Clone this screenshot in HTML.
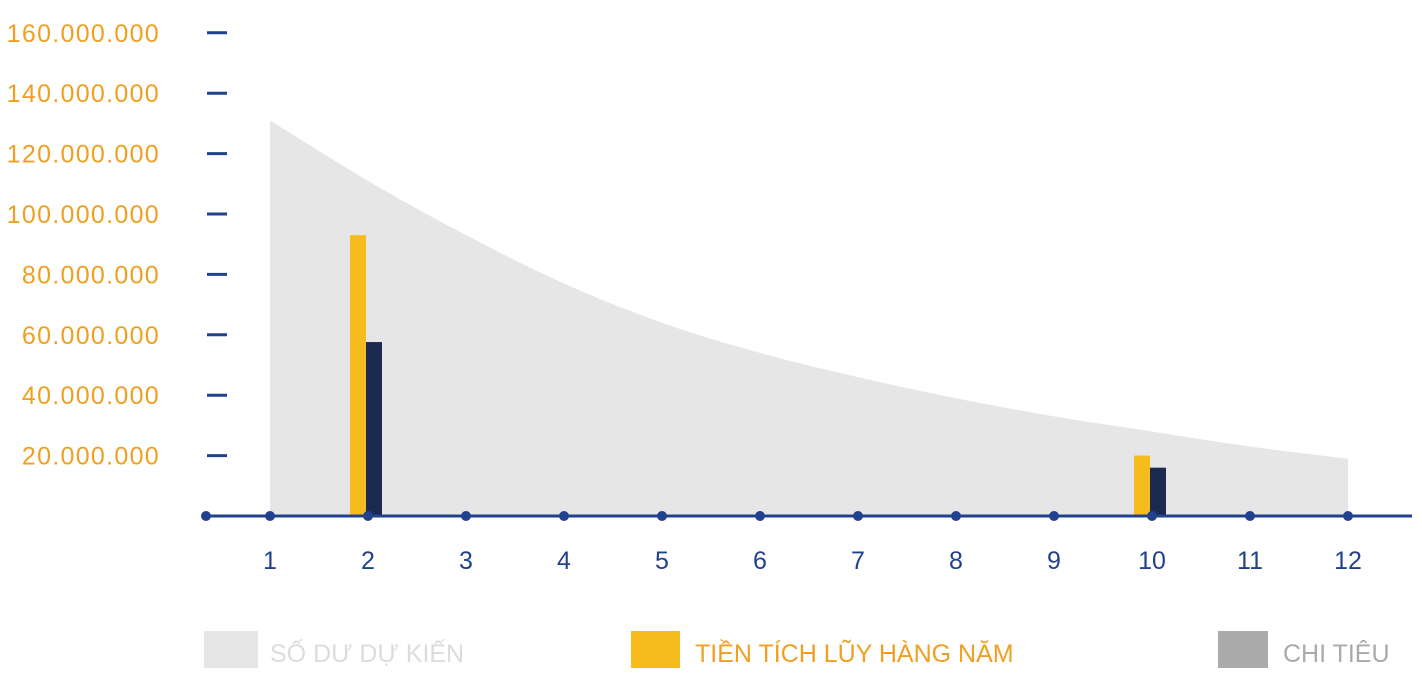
<!DOCTYPE html>
<html><head><meta charset="utf-8"><style>
body{margin:0;background:#fff;width:1422px;height:689px;overflow:hidden;font-family:"Liberation Sans","Noto Sans CJK SC",sans-serif}
</style></head><body>
<svg id="chart" width="1422" height="689" xmlns="http://www.w3.org/2000/svg"></svg>
<script>
const categories=[1,2,3,4,5,6,7,8,9,10,11,12];
const balance=[131,111,93,77,64,54,46,39,33,28,23,19];
const savings=[0,93,0,0,0,0,0,0,0,20,0,0];
const spending=[0,57.6,0,0,0,0,0,0,0,16,0,0];
const yTicks=[20,40,60,80,100,120,140,160];
const yTickLabels=["20.000.000","40.000.000","60.000.000","80.000.000","100.000.000","120.000.000","140.000.000","160.000.000"];
const svg=document.getElementById('chart');
const NS='http://www.w3.org/2000/svg';
const y0=516, pxPerM=60.4/20;
function y(v){return y0-v*pxPerM;}
function x(i){return 270+i*98;}
function mk(t,a,txt){const e=document.createElementNS(NS,t);for(const k in a)e.setAttribute(k,a[k]);if(txt!=null)e.textContent=txt;svg.appendChild(e);return e;}
// smooth area
const pts=balance.map((v,i)=>[x(i),y(v)]);
let d='M'+x(0)+','+y0+' L'+pts[0][0]+','+pts[0][1];
for(let i=0;i<pts.length-1;i++){
 const p0=pts[Math.max(0,i-1)],p1=pts[i],p2=pts[i+1],p3=pts[Math.min(pts.length-1,i+2)];
 const c1=[p1[0]+(p2[0]-p0[0])/6,p1[1]+(p2[1]-p0[1])/6];
 const c2=[p2[0]-(p3[0]-p1[0])/6,p2[1]-(p3[1]-p1[1])/6];
 d+=' C'+c1[0]+','+c1[1]+' '+c2[0]+','+c2[1]+' '+p2[0]+','+p2[1];
}
d+=' L'+x(balance.length-1)+','+y0+' Z';
let e=mk('path',{d:d,fill:'#e6e6e6'});


// y ticks
yTicks.forEach((v,i)=>{
 let t=mk('line',{x1:207,x2:227,y1:y(v),y2:y(v),stroke:'#21418f','stroke-width':3});
 
 
 let l=mk('text',{x:160,y:y(v)+9,'text-anchor':'end','font-size':25,'letter-spacing':1.3,fill:'#f0a020'},yTickLabels[i]);
 
 
});
// bars
categories.forEach((c,i)=>{
 if(savings[i]>0){let b=mk('rect',{x:x(i)-18,y:y(savings[i]),width:16,height:y0-y(savings[i]),fill:'#f6bb1c'});
 
 }
 if(spending[i]>0){let b=mk('rect',{x:x(i)-2,y:y(spending[i]),width:16,height:y0-y(spending[i]),fill:'#1b2a4e'});
 
 }
});
// axis
e=mk('line',{x1:204,x2:1412,y1:y0,y2:y0,stroke:'#21418f','stroke-width':3});


e=mk('circle',{cx:206,cy:y0,r:5,fill:'#21418f'});


categories.forEach((c,i)=>{
 let dt=mk('circle',{cx:x(i),cy:y0,r:5,fill:'#21418f'});
 
 
 let l=mk('text',{x:x(i),y:569,'text-anchor':'middle','font-size':25,fill:'#21418f'},String(c));
 
 
});
// legend
const leg=[[204,54,'#e6e6e6',270,'SỐ DƯ DỰ KIẾN','#dcdcdc'],[631,49,'#f6bb1c',695,'TIỀN TÍCH LŨY HÀNG NĂM','#f0a020'],[1218,50,'#ababab',1283,'CHI TIÊU','#aaaaaa']];
leg.forEach(g=>{
 let r=mk('rect',{x:g[0],y:631,width:g[1],height:37,fill:g[2]});
 
 
 let t=mk('text',{x:g[3],y:662,'font-size':25,fill:g[5]},g[4]);
 
 
});
</script>
</body></html>
